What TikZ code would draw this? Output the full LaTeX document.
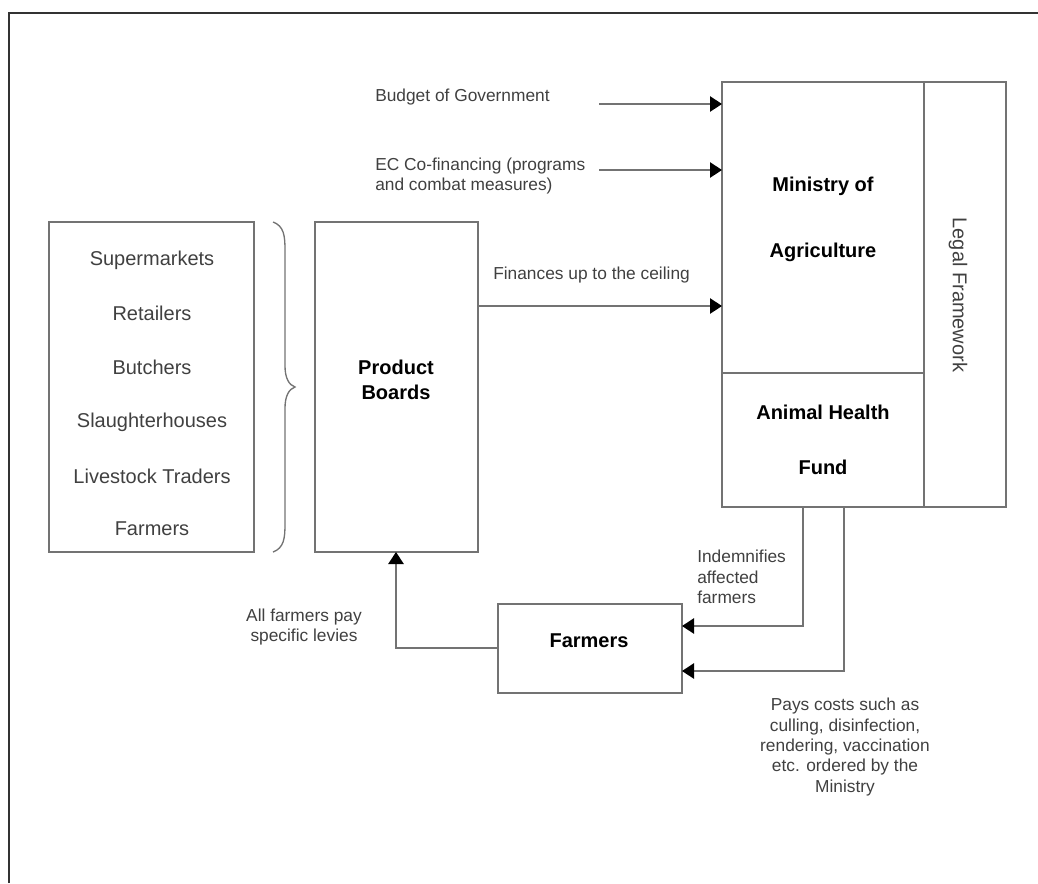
\documentclass[tikz,border=0pt]{standalone}
\usepackage{fontspec}
\setmainfont{Liberation Sans}
\usetikzlibrary{arrows.meta}
\definecolor{linegray}{gray}{0.45}
\definecolor{txtgray}{gray}{0.25}
\begin{document}
\begin{tikzpicture}[x=0.75pt,y=-0.75pt,
  box/.style={draw=linegray,line width=1.1pt,inner sep=0pt,outer sep=0pt,fill=none},
  lbl/.style={text=txtgray,font=\fontsize{13}{15.2}\selectfont,inner sep=0pt},
  item/.style={text=txtgray,font=\fontsize{15}{18}\selectfont,inner sep=0pt},
  bold/.style={text=black,font=\fontsize{15}{18.5}\selectfont\bfseries,inner sep=0pt},
  conn/.style={draw=linegray,line width=1.1pt},
  arr/.style={conn,-{Triangle[length=9pt,width=11.5pt,fill=black,color=black]}}]
\useasboundingbox (0,0) rectangle (1038,883);
% outer frame
\draw[line width=1.5pt,black!80] (9,883) -- (9,13) -- (1038,13);

% boxes
\node[box,minimum width=153.75pt,minimum height=247.5pt] (list) at (151.5,387) {};
\node[box,minimum width=122.25pt,minimum height=247.5pt] (pb) at (396.5,387) {};
\node[box,minimum width=151.5pt,minimum height=218.25pt] (min) at (823,227.5) {};
\node[box,minimum width=151.5pt,minimum height=100.5pt] (ahf) at (823,440) {};
\node[box,minimum width=61.5pt,minimum height=318.75pt] (legal) at (965,294.5) {};
\node[box,minimum width=138pt,minimum height=66.75pt] (farm) at (590,648.5) {};

% list items
\node[item] (i1) at (152,260) {Supermarkets};
\node[item] (i2) at (152,313) {Retailers};
\node[item] (i3) at (152,367) {Butchers};
\node[item] (i4) at (152,422) {Slaughterhouses};
\node[item] (i5) at (152,476) {Livestock Traders};
\node[item] (i6) at (152,529) {Farmers};

% brace
\draw[linegray,line width=1pt] (273,222) .. controls (284,226) and (285,236) .. (285,250)
  -- (285,366) .. controls (285,378) and (289,385) .. (295,387)
  .. controls (289,389) and (285,396) .. (285,408)
  -- (285,524) .. controls (285,538) and (284,548) .. (273,552);

% box texts
\node[bold,align=center] (pbt) at (396,380) {Product\\Boards};
\node[bold] (m1) at (823,186) {Ministry of};
\node[bold] (m2) at (823,252) {Agriculture};
\node[bold] (a1) at (823,412) {Animal Health};
\node[bold] (a2) at (823,467) {Fund};
\node[item,rotate=-90] (lf) at (958,295) {Legal Framework};
\node[bold] (ft) at (589,641) {Farmers};

% incoming arrows to ministry
\coordinate (bg) at (599,104);
\coordinate (ec) at (599,170);
\draw[arr] (bg) -- (bg -| min.west);
\draw[arr] (ec) -- (ec -| min.west);
\coordinate (fs) at (478,306);
\draw[arr] (fs) -- (fs -| min.west);

\node[lbl,anchor=west] (tbg) at (375,97) {Budget of Government};
\node[lbl,anchor=west,align=left] (tec) at (375,176) {EC Co-financing (programs\\and combat measures)};
\node[lbl,anchor=west] (tfs) at (493,275) {Finances up to the ceiling};

% from animal health fund to farmers
\coordinate (d1) at (803,507);
\coordinate (d2) at (844,507);
\draw[arr] (d1) |- (farm.east |- 0,626);
\draw[arr] (d2) |- (farm.east |- 0,671);
\node[lbl,anchor=west,align=left] (tind) at (697,577) {Indemnifies\\affected\\farmers};
\node[lbl,align=center] (tpay) at (845,747) {Pays costs such as\\culling, disinfection,\\rendering, vaccination\\etc. ordered by the\\Ministry};

% farmers to product boards
\draw[arr] (farm.west |- 0,648) -| (pb.south -| 396,0);
\node[lbl,align=center] (tlev) at (304,627) {All farmers pay\\specific levies};
\end{tikzpicture}
\end{document}
